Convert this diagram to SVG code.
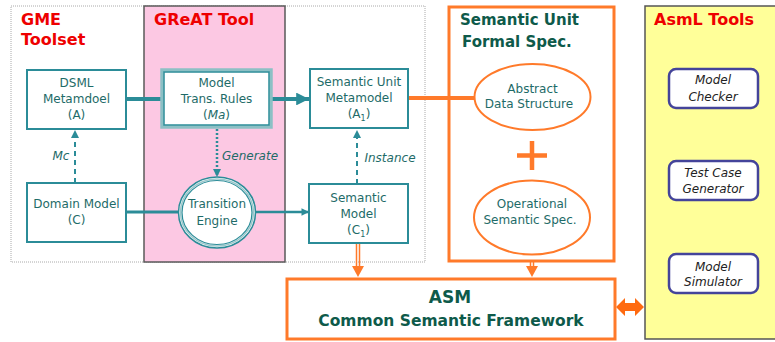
<svg xmlns="http://www.w3.org/2000/svg" width="775" height="342" viewBox="0 0 775 342">
<defs>
<style>
.t{font-family:"DejaVu Sans",Verdana,sans-serif;font-size:12px;fill:#1e6b68;text-anchor:middle}
.i{font-style:italic}
.title{font-family:"DejaVu Sans",Verdana,sans-serif;font-weight:bold;font-size:16px;fill:#ee0000}
.gt{font-family:"DejaVu Sans",Verdana,sans-serif;font-weight:bold;fill:#0e5a4a}
.box{fill:#fff;stroke:#2b8c98;stroke-width:2}
.tool{fill:#fff;stroke:#44449a;stroke-width:2.5}
.tt{font-family:"DejaVu Sans",Verdana,sans-serif;font-size:12px;font-style:italic;fill:#222;text-anchor:middle}
.ell{fill:#fff;stroke:#ff7a2a;stroke-width:2}
.c{stroke:#2b8c98;fill:none}
</style>
<marker id="ah" viewBox="0 0 10 10" refX="10" refY="5" markerWidth="3.5" markerHeight="3.2" markerUnits="strokeWidth" orient="auto"><path d="M0,0 L10,5 L0,10 z" fill="#2b8c98"/></marker>
<marker id="ah3" viewBox="0 0 10 10" refX="10" refY="5" markerWidth="3.3" markerHeight="3" markerUnits="strokeWidth" orient="auto"><path d="M0,0 L10,5 L0,10 z" fill="#2b8c98"/></marker>
<marker id="ah2" viewBox="0 0 10 10" refX="10" refY="5" markerWidth="4" markerHeight="4" markerUnits="strokeWidth" orient="auto"><path d="M0,0 L10,5 L0,10 z" fill="#2b8c98"/></marker>
</defs>

<g id="gme-toolset">
<rect x="11" y="6" width="414" height="256" fill="#fff" stroke="#aaa" stroke-width="1" stroke-dasharray="1,1"/>
<text class="title" x="21" y="25">GME</text>
<text class="title" x="21" y="45">Toolset</text>
</g>

<g id="great-tool">
<rect x="144" y="6" width="141" height="256" fill="#fcc8e3" stroke="#5a5a5a" stroke-width="1.5"/>
<text class="title" x="154" y="25">GReAT Tool</text>
</g>

<g id="semantic-unit-spec">
<rect x="449" y="7" width="165" height="254" fill="#fff" stroke="#ff7a2a" stroke-width="3"/>
<text class="gt" x="460" y="25" font-size="15">Semantic Unit</text>
<text class="gt" x="462" y="47" font-size="15">Formal Spec.</text>
<path d="M532,141 V170 M517,155.5 H547" stroke="#ff7a2a" stroke-width="4.5"/>
</g>

<g id="asml-tools">
<rect x="645" y="6" width="134" height="333" fill="#ffff99" stroke="#555" stroke-width="1.5"/>
<text class="title" x="654" y="25">AsmL Tools</text>
</g>

<g id="connectors">
<line x1="126" y1="99" x2="162" y2="99" class="c" stroke-width="4"/>
<line x1="271" y1="99" x2="309" y2="99" class="c" stroke-width="4" marker-end="url(#ah)"/>
<line x1="126" y1="212" x2="179" y2="212" class="c" stroke-width="3"/>
<line x1="256" y1="212" x2="309" y2="212" class="c" stroke-width="2.5" marker-end="url(#ah3)"/>
<line x1="75" y1="183" x2="75" y2="130" class="c" stroke-width="2" stroke-dasharray="5,4" marker-end="url(#ah2)"/>
<line x1="217" y1="129" x2="217" y2="177" class="c" stroke-width="2.5" stroke-dasharray="2,2" marker-end="url(#ah)"/>
<line x1="357" y1="184" x2="357" y2="130" class="c" stroke-width="2" stroke-dasharray="5,4" marker-end="url(#ah2)"/>
<text class="t i" x="61" y="160">Mc</text>
<text class="t i" x="250" y="160">Generate</text>
<text class="t i" x="390" y="162">Instance</text>
<line x1="408" y1="98" x2="475" y2="98" stroke="#ff7a2a" stroke-width="4"/>
<path d="M356.5,244 V267 M359.5,244 V267" stroke="#ff7a2a" stroke-width="1.5" fill="none"/>
<path d="M352,266 H364 L358,277 z" fill="#ff7a2a"/>
<path d="M530.5,262 V267 M533.5,262 V267" stroke="#ff7a2a" stroke-width="1.5" fill="none"/>
<path d="M526,266 H538 L532,277 z" fill="#ff7a2a"/>
<path d="M616,307 L625,298 V303 H635 V298 L644,307 L635,316 V311 H625 V316 z" fill="#ff6a10"/>
</g>

<g id="dsml-metamodel">
<rect class="box" x="27" y="70" width="99" height="59"/>
<text class="t" x="76.5" y="87">DSML</text>
<text class="t" x="76.5" y="103">Metamdoel</text>
<text class="t" x="76.5" y="119">(A)</text>
</g>

<g id="model-trans-rules">
<rect x="162" y="70" width="109" height="57" fill="#fff" stroke="#8cc0c5" stroke-width="3.5"/>
<rect x="164" y="72" width="105" height="53" fill="#fff" stroke="#2b8c98" stroke-width="1.5"/>
<text class="t" x="216.5" y="87">Model</text>
<text class="t" x="216.5" y="103">Trans. Rules</text>
<text class="t" x="216.5" y="119">(<tspan class="i">Ma</tspan>)</text>
</g>

<g id="domain-model">
<rect class="box" x="27" y="183" width="99" height="59"/>
<text class="t" x="76.5" y="208">Domain Model</text>
<text class="t" x="76.5" y="224">(C)</text>
</g>

<g id="transition-engine">
<ellipse cx="217" cy="212.5" rx="38.5" ry="35.5" fill="#fff" stroke="#2b8c98" stroke-width="1.5"/>
<ellipse cx="217" cy="212.5" rx="36.5" ry="33.5" fill="#fff" stroke="#9cc8cc" stroke-width="1.5"/>
<ellipse cx="217" cy="212.5" rx="35" ry="32" fill="#fff" stroke="#2b8c98" stroke-width="1.2"/>
<text class="t" x="217" y="208">Transition</text>
<text class="t" x="217" y="225">Engine</text>
</g>

<g id="semantic-unit-metamodel">
<rect class="box" x="310" y="69" width="98" height="59"/>
<text class="t" x="359" y="86">Semantic Unit</text>
<text class="t" x="359" y="102">Metamodel</text>
<text class="t" x="359" y="118">(A<tspan font-size="8" dy="3">1</tspan><tspan dy="-3">)</tspan></text>
</g>

<g id="semantic-model">
<rect class="box" x="309" y="184" width="99" height="59"/>
<text class="t" x="358.5" y="202">Semantic</text>
<text class="t" x="358.5" y="218">Model</text>
<text class="t" x="358.5" y="234">(C<tspan font-size="8" dy="3">1</tspan><tspan dy="-3">)</tspan></text>
</g>

<g id="abstract-data-structure">
<ellipse class="ell" cx="532.5" cy="97" rx="58" ry="33"/>
<text class="t" x="532.5" y="93">Abstract</text>
<text class="t" x="529" y="108">Data Structure</text>
</g>

<g id="operational-semantic-spec">
<ellipse class="ell" cx="532" cy="217.5" rx="58" ry="37"/>
<text class="t" x="532" y="208">Operational</text>
<text class="t" x="530" y="224">Semantic Spec.</text>
</g>

<g id="asm">
<rect x="287" y="279" width="328" height="60" fill="#fff" stroke="#ff7a2a" stroke-width="3"/>
<text class="gt" x="450" y="303" font-size="17" text-anchor="middle">ASM</text>
<text class="gt" x="451" y="326" font-size="15.5" text-anchor="middle">Common Semantic Framework</text>
</g>

<g id="model-checker">
<rect class="tool" x="669" y="69" width="89" height="39" rx="7"/>
<text class="tt" x="713" y="84">Model</text>
<text class="tt" x="713" y="101">Checker</text>
</g>

<g id="test-case-generator">
<rect class="tool" x="669" y="161" width="89" height="39" rx="7"/>
<text class="tt" x="713" y="177">Test Case</text>
<text class="tt" x="713" y="193">Generator</text>
</g>

<g id="model-simulator">
<rect class="tool" x="669" y="254" width="89" height="39" rx="7"/>
<text class="tt" x="713" y="271">Model</text>
<text class="tt" x="713" y="286">Simulator</text>
</g>
</svg>
